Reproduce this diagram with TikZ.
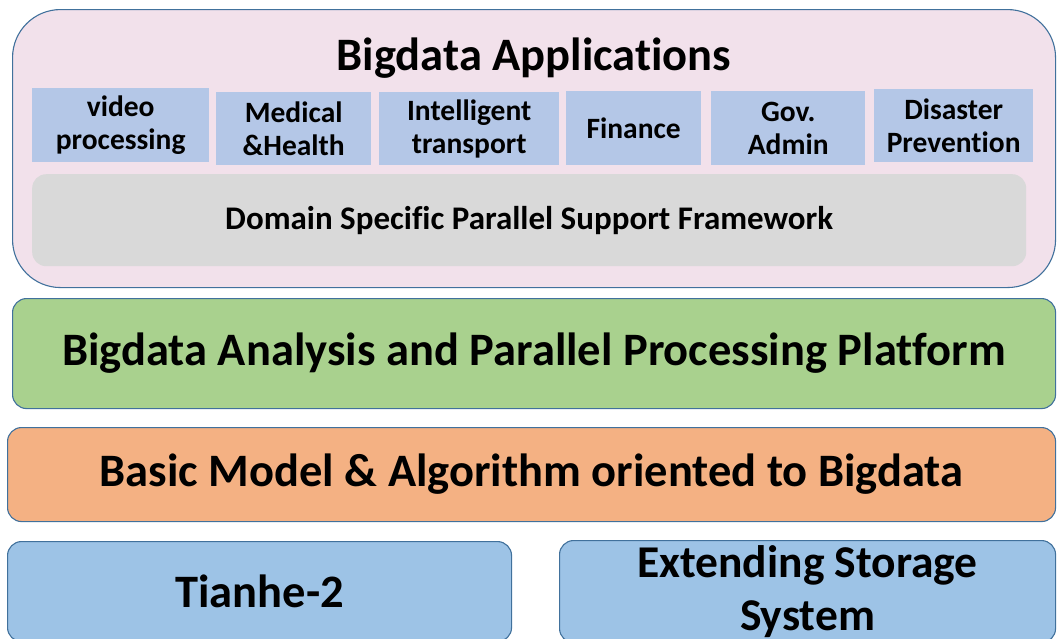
\documentclass[tikz,border=0pt]{standalone}
\usepackage{fontspec}
\setmainfont{Carlito}[Ligatures={NoCommon,NoRequired,NoContextual}]
\definecolor{pinkc}{HTML}{F2E1EB}
\definecolor{appc}{HTML}{B4C7E7}
\definecolor{greyc}{HTML}{D9D9D9}
\definecolor{greenc}{HTML}{A9D18E}
\definecolor{orangec}{HTML}{F4B183}
\definecolor{bluec}{HTML}{9DC3E6}
\definecolor{bordc}{HTML}{41719C}
\begin{document}
\begin{tikzpicture}[x=1pt,y=-1pt,
  layer/.style={draw=bordc, line width=1.1pt, rounded corners=14pt, inner sep=0pt, anchor=north west, align=center, font=\bfseries\fontsize{46.5}{54}\selectfont},
  app/.style={fill=appc, inner sep=0pt, anchor=north west, align=center, font=\bfseries\fontsize{29.5}{33}\selectfont},
]
\useasboundingbox (0,0) rectangle (1057,638);
% top application layer
\node[layer, rounded corners=48pt, fill=pinkc, minimum width=1043pt, minimum height=278pt] (apps) at (12,9) {};
\node[font=\bfseries\fontsize{46.5}{54}\selectfont, inner sep=0pt] (title) at (534,58) {Bigdata Applications};
\node[app, minimum width=177pt, minimum height=74pt] (video) at (32,88) {video\\processing};
\node[app, minimum width=155pt, minimum height=73pt] (med) at (216,92) {Medical\\\&Health};
\node[app, minimum width=180pt, minimum height=73pt] (trans) at (379,92) {Intelligent\\transport};
\node[app, minimum width=135pt, minimum height=74pt] (fin) at (566,91) {Finance};
\node[app, minimum width=154pt, minimum height=74pt] (gov) at (711,91) {Gov.\\Admin};
\node[app, minimum width=159pt, minimum height=73pt] (dis) at (874,89) {Disaster\\Prevention};
\node[fill=greyc, rounded corners=14pt, inner sep=0pt, anchor=north west, minimum width=994pt, minimum height=92pt, font=\bfseries\fontsize{33}{38}\selectfont] (dom) at (32,174) {Domain Specific Parallel Support Framework};
% lower layers
\node[layer, fill=greenc, minimum width=1043pt, minimum height=110pt] (plat) at (12,298) {Bigdata Analysis and Parallel Processing Platform};
\node[layer, fill=orangec, minimum width=1048pt, minimum height=94pt] (algo) at (7,427) {Basic Model \& Algorithm oriented to Bigdata};
\node[layer, fill=bluec, minimum width=504pt, minimum height=100pt] (tianhe) at (7,541) {Tianhe-2};
\node[layer, fill=bluec, minimum width=496pt, minimum height=102pt, font=\bfseries\fontsize{45.5}{53}\selectfont] (store) at (559,540) {Extending Storage\\System};
\end{tikzpicture}
\end{document}
